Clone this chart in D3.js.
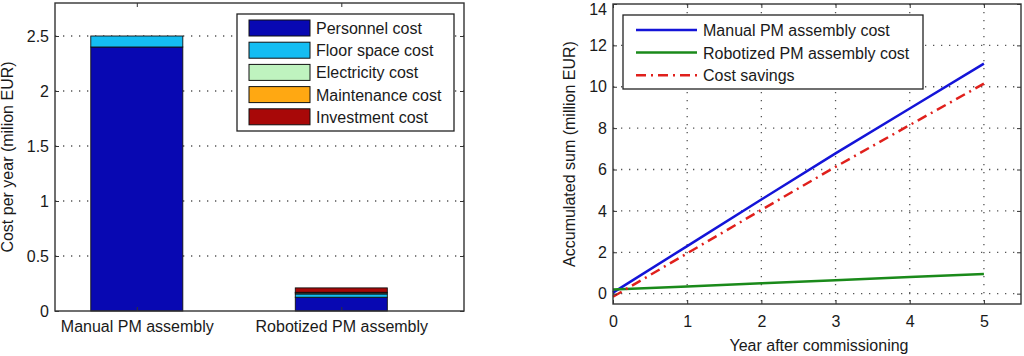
<!DOCTYPE html>
<html>
<head>
<meta charset="utf-8">
<script src="https://cdn.jsdelivr.net/npm/d3@7"></script>
<style>
  html, body { margin: 0; padding: 0; background: #fff; }
  svg { display: block; }
  text { font-family: "Liberation Sans", Arial, sans-serif; fill: #1a1a1a; }
</style>
</head>
<body>
<svg id="chart" width="1024" height="356"></svg>
<script>
// ---------- Data: left panel (stacked bars) ----------
const categories = ["Manual PM assembly", "Robotized PM assembly"];
const costTypes = ["Personnel cost", "Floor space cost", "Electricity cost", "Maintenance cost", "Investment cost"];
const personnelCost   = [2.40, 0.125];
const floorSpaceCost  = [0.10, 0.030];
const electricityCost = [0.00, 0.010];
const maintenanceCost = [0.00, 0.005];
const investmentCost  = [0.00, 0.040];
const leftYTicks = [0, 0.5, 1, 1.5, 2, 2.5];
const leftYTickLabels = ["0", "0.5", "1", "1.5", "2", "2.5"];

// ---------- Data: right panel (accumulated sums) ----------
const years = [0, 1, 2, 3, 4, 5];
const manualAccum = [0.05, 2.30, 4.55, 6.78, 8.95, 11.12];
const robotAccum  = [0.20, 0.35, 0.50, 0.65, 0.80, 0.95];
const savings     = [-0.15, 1.95, 4.05, 6.13, 8.15, 10.15];
const rightSeriesNames = ["Manual PM assembly cost", "Robotized PM assembly cost", "Cost savings"];
const rightYTicks = [0, 2, 4, 6, 8, 10, 12, 14];
const rightXTicks = [0, 1, 2, 3, 4, 5];

const svg = d3.select("#chart");
const FONT = 16;
const barColors = ["#0808b2", "#14bdf2", "#bff3bf", "#ffa812", "#a80808"];

// ================= LEFT PANEL =================
(function () {
  const L = { x0: 55, x1: 464, y0: 3, y1: 311 };
  const x = d3.scaleLinear().domain([0.6, 2.6]).range([L.x0, L.x1]);
  const y = d3.scaleLinear().domain([0, 2.8]).range([L.y1, L.y0]);
  const g = svg.append("g");

  // grid (dotted horizontal)
  g.append("g").selectAll("line").data(leftYTicks.filter(d => d > 0)).join("line")
    .attr("x1", L.x0).attr("x2", L.x1)
    .attr("y1", d => y(d)).attr("y2", d => y(d))
    .attr("stroke", "#555").attr("stroke-width", 1.3)
    .attr("stroke-dasharray", "1.3,6.7");

  // stacked bars
  const rows = categories.map((c, i) => ({
    idx: i + 1,
    vals: [personnelCost[i], floorSpaceCost[i], electricityCost[i], maintenanceCost[i], investmentCost[i]]
  }));
  const barW = 0.45;
  rows.forEach(r => {
    let acc = 0;
    r.vals.forEach((v, k) => {
      const lo = acc, hi = acc + v;
      acc = hi;
      if (v <= 0) return;
      g.append("rect")
        .attr("x", x(r.idx - barW / 2))
        .attr("width", x(r.idx + barW / 2) - x(r.idx - barW / 2))
        .attr("y", y(hi))
        .attr("height", y(lo) - y(hi))
        .attr("fill", barColors[k])
        .attr("stroke", "#111").attr("stroke-width", 0.9);
    });
  });

  // frame
  g.append("rect").attr("x", L.x0).attr("y", L.y0)
    .attr("width", L.x1 - L.x0).attr("height", L.y1 - L.y0)
    .attr("fill", "none").attr("stroke", "#333").attr("stroke-width", 1.4);

  // y ticks (inward, both sides)
  const yAxis = d3.axisLeft(y).tickValues(leftYTicks)
    .tickFormat((d, i) => leftYTickLabels[i]).tickSizeInner(-4).tickSizeOuter(0).tickPadding(6);
  const ya = g.append("g").attr("transform", `translate(${L.x0},0)`).call(yAxis);
  ya.select(".domain").remove();
  ya.selectAll("line").attr("stroke", "#333");
  ya.selectAll("text").attr("font-size", FONT).attr("fill", "#1a1a1a")
    .attr("font-family", "Liberation Sans, Arial, sans-serif");
  const yr = g.append("g").attr("transform", `translate(${L.x1},0)`)
    .call(d3.axisRight(y).tickValues(leftYTicks).tickSizeInner(-4).tickSizeOuter(0).tickFormat(""));
  yr.select(".domain").remove(); yr.selectAll("line").attr("stroke", "#333");

  // x ticks/labels
  const xAxis = d3.axisBottom(x).tickValues([1, 2])
    .tickFormat((d, i) => categories[i]).tickSizeInner(0).tickSizeOuter(0).tickPadding(10);
  const xa = g.append("g").attr("transform", `translate(0,${L.y1})`).call(xAxis);
  xa.select(".domain").remove();
  xa.selectAll("text").attr("font-size", FONT).attr("fill", "#1a1a1a")
    .attr("font-family", "Liberation Sans, Arial, sans-serif");
  const xt = g.append("g").attr("transform", `translate(0,${L.y0})`)
    .call(d3.axisTop(x).tickValues([1, 2]).tickSizeInner(-4).tickSizeOuter(0).tickFormat(""));
  xt.select(".domain").remove(); xt.selectAll("line").attr("stroke", "#333");
  const xb = g.append("g").attr("transform", `translate(0,${L.y1})`)
    .call(d3.axisBottom(x).tickValues([1, 2]).tickSizeInner(-4).tickSizeOuter(0).tickFormat(""));
  xb.select(".domain").remove(); xb.selectAll("line").attr("stroke", "#333");

  // y label
  g.append("text")
    .attr("transform", `translate(13,${(L.y0 + L.y1) / 2}) rotate(-90)`)
    .attr("text-anchor", "middle").attr("font-size", FONT)
    .text("Cost per year (milion EUR)");

  // legend
  const lg = g.append("g");
  lg.append("rect").attr("x", 237).attr("y", 14).attr("width", 217).attr("height", 117)
    .attr("fill", "#fff").attr("stroke", "#222").attr("stroke-width", 1.3);
  costTypes.forEach((name, k) => {
    const cy = 28 + k * 22.2;
    lg.append("rect").attr("x", 249).attr("y", cy - 8).attr("width", 61).attr("height", 16)
      .attr("fill", barColors[k]).attr("stroke", "#111").attr("stroke-width", 1);
    lg.append("text").attr("x", 316).attr("y", cy + 6).attr("font-size", FONT).text(name);
  });
})();

// ================= RIGHT PANEL =================
(function () {
  const R = { x0: 613, x1: 1021, y0: 4, y1: 304 };
  const x = d3.scaleLinear().domain([0, 5.5]).range([R.x0, R.x1]);
  const y = d3.scaleLinear().domain([-0.5, 14]).range([R.y1, R.y0]);
  const g = svg.append("g");

  // grid
  g.append("g").selectAll("line").data(rightYTicks.filter(d => d < 14)).join("line")
    .attr("x1", R.x0).attr("x2", R.x1)
    .attr("y1", d => y(d)).attr("y2", d => y(d))
    .attr("stroke", "#555").attr("stroke-width", 1.3).attr("stroke-dasharray", "1.3,6.7");
  g.append("g").selectAll("line").data(rightXTicks.filter(d => d > 0)).join("line")
    .attr("x1", d => x(d)).attr("x2", d => x(d))
    .attr("y1", R.y0).attr("y2", R.y1)
    .attr("stroke", "#555").attr("stroke-width", 1.3).attr("stroke-dasharray", "1.3,6.7");

  // lines
  const line = d3.line().x(d => x(d[0])).y(d => y(d[1]));
  const series = [
    { vals: manualAccum, color: "#1414d8", dash: null },
    { vals: robotAccum, color: "#1a8a1a", dash: null },
    { vals: savings, color: "#e0201c", dash: "10,5,2,5" }
  ];
  series.forEach(s => {
    g.append("path").datum(years.map((t, i) => [t, s.vals[i]]))
      .attr("d", line).attr("fill", "none")
      .attr("stroke", s.color).attr("stroke-width", 2.5)
      .attr("stroke-dasharray", s.dash);
  });

  // frame
  g.append("rect").attr("x", R.x0).attr("y", R.y0)
    .attr("width", R.x1 - R.x0).attr("height", R.y1 - R.y0)
    .attr("fill", "none").attr("stroke", "#333").attr("stroke-width", 1.4);

  // axes ticks
  const ya = g.append("g").attr("transform", `translate(${R.x0},0)`)
    .call(d3.axisLeft(y).tickValues(rightYTicks).tickSizeInner(-4).tickSizeOuter(0).tickPadding(6).tickFormat(d3.format("d")));
  ya.select(".domain").remove();
  ya.selectAll("line").attr("stroke", "#333");
  ya.selectAll("text").attr("font-size", FONT).attr("fill", "#1a1a1a")
    .attr("font-family", "Liberation Sans, Arial, sans-serif");
  // keep the top label ("14") just inside the picture
  ya.selectAll(".tick").filter(d => d === 14).select("text").attr("dy", "0.32em").attr("y", 5);
  const yr = g.append("g").attr("transform", `translate(${R.x1},0)`)
    .call(d3.axisRight(y).tickValues(rightYTicks).tickSizeInner(-4).tickSizeOuter(0).tickFormat(""));
  yr.select(".domain").remove(); yr.selectAll("line").attr("stroke", "#333");

  const xa = g.append("g").attr("transform", `translate(0,${R.y1})`)
    .call(d3.axisBottom(x).tickValues(rightXTicks).tickSizeInner(-4).tickSizeOuter(0).tickPadding(12).tickFormat(d3.format("d")));
  xa.select(".domain").remove();
  xa.selectAll("line").attr("stroke", "#333");
  xa.selectAll("text").attr("font-size", FONT).attr("fill", "#1a1a1a")
    .attr("font-family", "Liberation Sans, Arial, sans-serif");
  const xt = g.append("g").attr("transform", `translate(0,${R.y0})`)
    .call(d3.axisTop(x).tickValues(rightXTicks).tickSizeInner(-4).tickSizeOuter(0).tickFormat(""));
  xt.select(".domain").remove(); xt.selectAll("line").attr("stroke", "#333");

  // labels
  g.append("text").attr("x", (R.x0 + R.x1) / 2 + 2).attr("y", 351)
    .attr("text-anchor", "middle").attr("font-size", FONT).text("Year after commissioning");
  g.append("text")
    .attr("transform", `translate(575,${(R.y0 + R.y1) / 2}) rotate(-90)`)
    .attr("text-anchor", "middle").attr("font-size", FONT)
    .text("Accumulated sum (million EUR)");

  // legend
  const lg = g.append("g");
  lg.append("rect").attr("x", 623).attr("y", 15).attr("width", 300).attr("height", 74)
    .attr("fill", "#fff").attr("stroke", "#222").attr("stroke-width", 1.3);
  rightSeriesNames.forEach((name, k) => {
    const cy = 30 + k * 22.6;
    lg.append("line").attr("x1", 636).attr("x2", 697).attr("y1", cy).attr("y2", cy)
      .attr("stroke", series[k].color).attr("stroke-width", 2.5)
      .attr("stroke-dasharray", series[k].dash);
    lg.append("text").attr("x", 703).attr("y", cy + 6).attr("font-size", FONT).text(name);
  });
})();
</script>
</body>
</html>
